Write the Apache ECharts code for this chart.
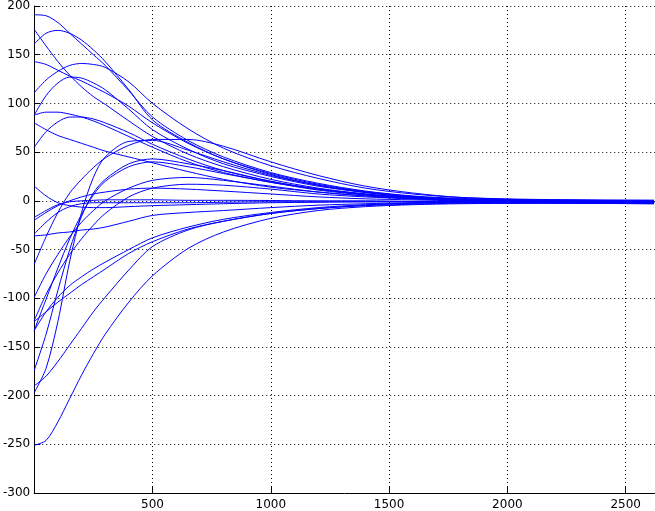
<!DOCTYPE html>
<html>
<head>
<meta charset="utf-8">
<script src="https://cdn.jsdelivr.net/npm/echarts@6/dist/echarts.min.js"></script>
<style>
html,body{margin:0;padding:0;background:#fff;}
#chart{width:655px;height:511px;}
</style>
</head>
<body>
<div id="chart"></div>
<script>
// sample positions along the x axis
var xs = [0, 50, 100, 150, 200, 250, 300, 400, 500, 650, 800, 1000, 1200, 1400, 1600, 1800, 2100, 2620];

// curves (values at the positions above)
var cA  = [191, 190, 183, 172, 161, 150, 139, 113, 86, 62, 45, 29, 18, 10, 5, 2.5, 1, 0];
var cB  = [161, 172, 175, 172, 165, 155, 143, 114, 83, 60, 43, 28, 17, 9.5, 4.5, 1.5, 0, -1];
var cC  = [176, 159, 143, 129, 117, 107, 99, 82, 66, 48, 35, 22, 13, 7, 3, 1, 0, -1.5];
var cD  = [143, 140, 134, 128, 123, 117, 111, 97, 80, 59, 43, 27, 16, 9, 4, 1.5, 0, -1];
var cE  = [111, 124, 133, 139, 141, 140, 137, 122, 100, 74, 54, 36, 23, 13, 7, 3.5, 1.5, 0.7];
var cF  = [88, 108, 121, 127, 126, 121, 114, 94, 73, 53, 38, 25, 15, 8.5, 4, 1.5, 0, -1];
var cG  = [88, 91, 91, 89, 86, 82, 77, 66, 55, 40, 29, 19, 12, 6.5, 3, 1, 0, -2];
var cH  = [80, 73, 67, 63, 59, 55, 51, 45, 39, 30, 22, 14, 9, 5, 2, 0.5, -0.5, -1.5];
var cI  = [55, 71, 81, 86, 86, 84, 80, 70, 58, 43, 31, 20, 12, 6.5, 3, 1, 0, -0.5];
var cJ  = [-65, -37, -12, 8, 22, 34, 44, 57, 63, 63, 56, 40, 26, 15, 8, 3.5, 1, 0];
var cJ2 = [-197, -172, -124, -62, -12, 24, 45, 61, 62, 52, 40, 26, 16, 8.5, 4, 1.5, 0, -1];
var cK  = [-174, -137, -92, -50, -16, 8, 22, 38, 43, 38, 31, 20, 12, 7, 3, 1, 0, -1];
var cL  = [-133, -101, -69, -39, -14, 6, 20, 35, 40, 35, 28, 19, 11, 6, 3, 1, -0.5, -1.5];
var cM  = [-99, -75, -55, -37, -22, -10, 0, 13, 21, 24, 21, 15, 9, 5, 2.5, 1, 0, -1];
var cN  = [-123, -96, -74, -55, -39, -25, -13, 4, 13, 17, 16, 12, 7, 4, 2, 0.5, -0.5, -1.5];
var cO  = [15, 5, -2, -5, -6.5, -7, -7, -6, -5, -4, -3, -2, -1.5, -1, -1, -1, -1, -1.5];
var cP1 = [-17, -10, -4, -1, 0, 0.5, 1, 1, 1, 0.5, 0.5, 0.3, 0, 0, -0.5, -0.5, -1, -1];
var cP2 = [-20, -12, -5, 0, 4, 7, 9, 12, 13, 12, 10, 7, 4, 2, 1, 0, -0.5, -1];
var cP3 = [-34, -22, -12, -6, -3, -2, -2, -2, -2, -2, -1.5, -1, -1, -1, -1, -1, -1.5, -2];
var cQ  = [-36, -35, -33, -32, -30, -29, -27, -21, -15, -12, -10, -7, -4.5, -3, -2, -1.5, -1.5, -2];
var cR  = [-124, -114, -104, -95, -86, -78, -70, -54, -42, -29, -21, -13, -8, -5, -3.5, -2.5, -2.5, -3];
var cS  = [-133, -114, -99, -87, -78, -70, -63, -50, -38, -27, -19, -12, -7, -4, -2.5, -1.5, -1.5, -2];
var cT  = [-251, -246, -227, -203, -179, -157, -137, -104, -77, -49, -32, -18, -10, -6, -4, -3, -2.5, -3];
var cU  = [-190, -180, -165, -148, -131, -114, -99, -71, -47, -30, -21, -13, -8, -4.5, -2.5, -2, -2, -2.5];

var curves = [cA, cB, cC, cD, cE, cF, cG, cH, cI, cJ, cJ2, cK, cL, cM, cN, cO, cP1, cP2, cP3, cQ, cR, cS, cT, cU];

var xTicks = [500, 1000, 1500, 2000, 2500];
var yTicks = [-300, -250, -200, -150, -100, -50, 0, 50, 100, 150, 200];

var series = curves.map(function (c) {
  return {
    type: 'line',
    data: c.map(function (v, i) { return [xs[i], v]; }),
    smooth: 0.3,
    showSymbol: false,
    symbol: 'none',
    lineStyle: { color: '#0000ff', width: 1 },
    silent: true,
    z: 3
  };
});

var font = 'DejaVu Sans';
var chart = echarts.init(document.getElementById('chart'), null, { renderer: 'canvas' });
chart.setOption({
  animation: false,
  backgroundColor: '#ffffff',
  grid: { left: 34, top: 5, right: -2, bottom: 17, containLabel: false },
  xAxis: {
    type: 'value',
    min: 0,
    max: 2624,
    interval: 500,
    axisLine: { show: true, onZero: false, lineStyle: { color: '#000', width: 1 } },
    axisTick: { show: true, inside: true, length: 6, lineStyle: { color: '#000' } },
    axisLabel: {
      color: '#000', fontFamily: font, fontSize: 12, margin: 6,
      showMinLabel: false, showMaxLabel: false,
      formatter: function (v) { return xTicks.indexOf(v) >= 0 ? String(v) : ''; }
    },
    splitLine: { show: true, lineStyle: { color: '#000', width: 1, type: [1, 3] } }
  },
  yAxis: {
    type: 'value',
    min: -300,
    max: 200,
    interval: 50,
    axisLine: { show: true, onZero: false, lineStyle: { color: '#000', width: 1 } },
    axisTick: { show: true, inside: true, length: 6, lineStyle: { color: '#000' } },
    axisLabel: {
      color: '#000', fontFamily: font, fontSize: 12, margin: 4,
      formatter: function (v) { return yTicks.indexOf(v) >= 0 ? String(v) : ''; }
    },
    splitLine: { show: true, lineStyle: { color: '#000', width: 1, type: [1, 3] } }
  },
  series: series
});
</script>
</body>
</html>
